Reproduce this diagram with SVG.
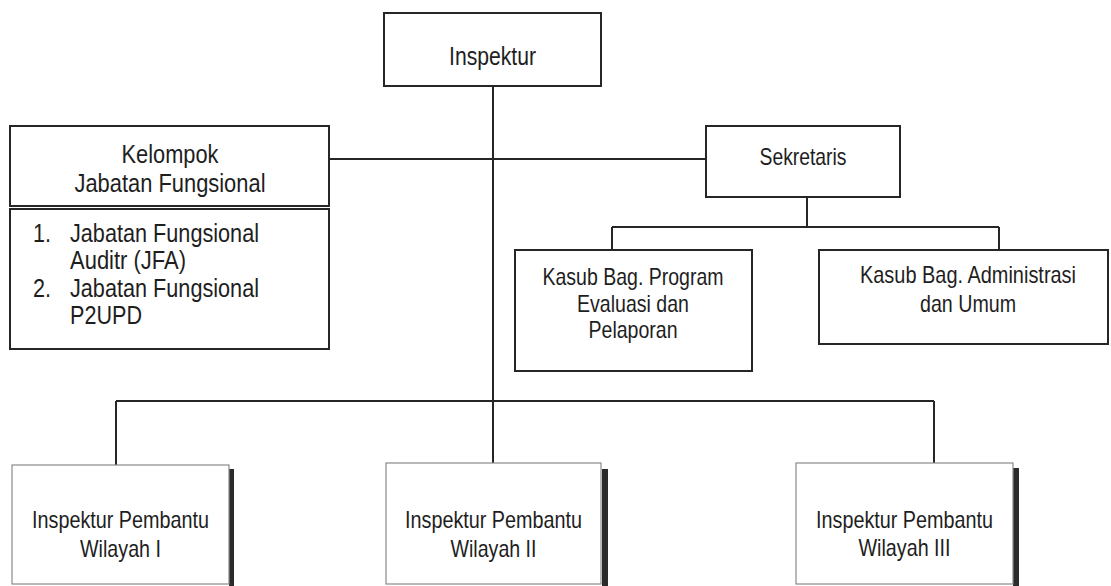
<svg xmlns="http://www.w3.org/2000/svg" width="1111" height="586" viewBox="0 0 1111 586">
<style>
  .box { fill: #ffffff; stroke: #262626; stroke-width: 2; }
  .wbox { fill: #ffffff; stroke: #8a8a8a; stroke-width: 1.2; }
  .shadow { fill: #2b2b2b; }
  .conn { stroke: #262626; stroke-width: 2; fill: none; }
  text { font-family: "Liberation Sans Narrow", "Arial Narrow", "Liberation Sans", Arial, sans-serif; fill: #1e1e1e; }
  .big { font-size: 26px; }
  .std { font-size: 24px; }
  .mid { text-anchor: middle; }
</style>
<rect x="0" y="0" width="1111" height="586" fill="#ffffff"/>

<g id="connectors">
  <line class="conn" x1="493" y1="86" x2="493" y2="463"/>
  <line class="conn" x1="329" y1="159" x2="706" y2="159"/>
  <line class="conn" x1="807" y1="197" x2="807" y2="227"/>
  <line class="conn" x1="612" y1="227" x2="999" y2="227"/>
  <line class="conn" x1="612" y1="227" x2="612" y2="250"/>
  <line class="conn" x1="999" y1="227" x2="999" y2="250"/>
  <line class="conn" x1="116" y1="401" x2="934" y2="401"/>
  <line class="conn" x1="116" y1="401" x2="116" y2="465"/>
  <line class="conn" x1="934" y1="401" x2="934" y2="463"/>
</g>

<g id="inspektur">
  <rect class="box" x="384" y="13" width="217" height="73"/>
  <text class="big mid" x="492.5" y="65" textLength="87" lengthAdjust="spacingAndGlyphs">Inspektur</text>
</g>

<g id="kelompok">
  <rect class="box" x="10" y="126" width="319" height="80"/>
  <text class="big mid" x="170" y="163" textLength="97" lengthAdjust="spacingAndGlyphs">Kelompok</text>
  <text class="big mid" x="170" y="191.5" textLength="191" lengthAdjust="spacingAndGlyphs">Jabatan Fungsional</text>
</g>

<g id="jabatan-list">
  <rect class="box" x="10" y="209" width="319" height="140"/>
  <text class="big" x="33" y="241.5" textLength="18" lengthAdjust="spacingAndGlyphs">1.</text>
  <text class="big" x="70" y="241.5" textLength="189" lengthAdjust="spacingAndGlyphs">Jabatan Fungsional</text>
  <text class="big" x="70" y="268.5" textLength="116" lengthAdjust="spacingAndGlyphs">Auditr (JFA)</text>
  <text class="big" x="33" y="296.5" textLength="18" lengthAdjust="spacingAndGlyphs">2.</text>
  <text class="big" x="70" y="296.5" textLength="189" lengthAdjust="spacingAndGlyphs">Jabatan Fungsional</text>
  <text class="big" x="70" y="324" textLength="72" lengthAdjust="spacingAndGlyphs">P2UPD</text>
</g>

<g id="sekretaris">
  <rect class="box" x="706" y="126" width="194" height="71"/>
  <text class="std mid" x="803" y="165" textLength="87" lengthAdjust="spacingAndGlyphs">Sekretaris</text>
</g>

<g id="kasub-program">
  <rect class="box" x="515" y="250" width="237" height="121"/>
  <text class="std mid" x="633" y="285" textLength="181" lengthAdjust="spacingAndGlyphs">Kasub Bag. Program</text>
  <text class="std mid" x="633" y="311.5" textLength="112" lengthAdjust="spacingAndGlyphs">Evaluasi dan</text>
  <text class="std mid" x="633" y="338" textLength="89" lengthAdjust="spacingAndGlyphs">Pelaporan</text>
</g>

<g id="kasub-administrasi">
  <rect class="box" x="819" y="250" width="289" height="94"/>
  <text class="std mid" x="968" y="283" textLength="216" lengthAdjust="spacingAndGlyphs">Kasub Bag. Administrasi</text>
  <text class="std mid" x="968" y="312" textLength="96" lengthAdjust="spacingAndGlyphs">dan Umum</text>
</g>

<g id="wilayah-1">
  <rect class="shadow" x="229" y="469" width="5" height="117"/>
  <rect class="wbox" x="12" y="465" width="217" height="119"/>
  <text class="std mid" x="120.5" y="528" textLength="177" lengthAdjust="spacingAndGlyphs">Inspektur Pembantu</text>
  <text class="std mid" x="120.5" y="556.5" textLength="81" lengthAdjust="spacingAndGlyphs">Wilayah I</text>
</g>

<g id="wilayah-2">
  <rect class="shadow" x="602" y="469" width="6" height="117"/>
  <rect class="wbox" x="386" y="463" width="215" height="121"/>
  <text class="std mid" x="493.5" y="528" textLength="177" lengthAdjust="spacingAndGlyphs">Inspektur Pembantu</text>
  <text class="std mid" x="493.5" y="556.5" textLength="86" lengthAdjust="spacingAndGlyphs">Wilayah II</text>
</g>

<g id="wilayah-3">
  <rect class="shadow" x="1013" y="468" width="6" height="118"/>
  <rect class="wbox" x="796" y="463" width="217" height="121"/>
  <text class="std mid" x="904.5" y="528" textLength="177" lengthAdjust="spacingAndGlyphs">Inspektur Pembantu</text>
  <text class="std mid" x="904.5" y="555.5" textLength="92" lengthAdjust="spacingAndGlyphs">Wilayah III</text>
</g>
</svg>
